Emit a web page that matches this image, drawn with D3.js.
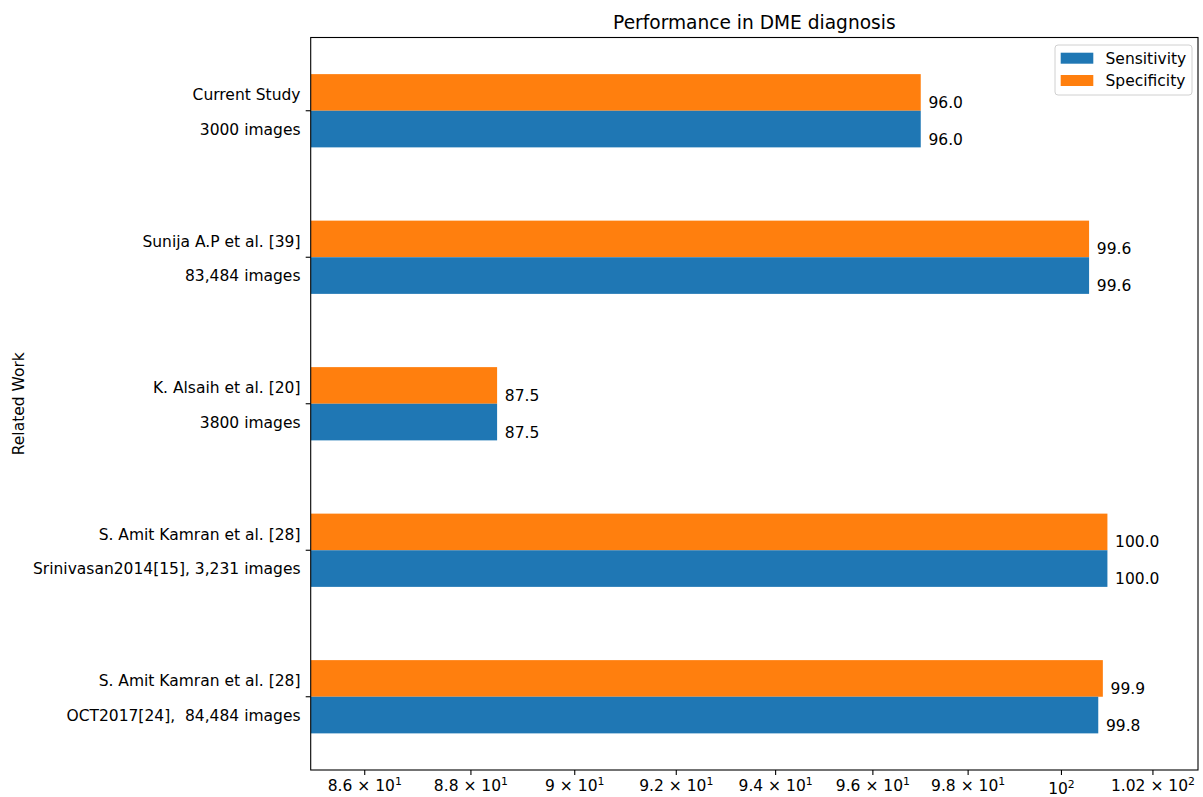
<!DOCTYPE html>
<html>
<head>
<meta charset="utf-8">
<script src="https://cdn.jsdelivr.net/npm/d3@7"></script>
<style>
  body { margin: 0; background: #fff; }
  text { font-family: "DejaVu Sans", sans-serif; fill: #000; }
</style>
</head>
<body>
<svg id="chart" width="1203" height="797"></svg>
<script>
// data
let studies = ["Current Study", "Sunija A.P et al. [39]", "K. Alsaih et al. [20]",
    "S. Amit Kamran et al. [28]", "S. Amit Kamran et al. [28]"];
let datasets = ["3000 images", "83,484 images", "3800 images",
    "Srinivasan2014[15], 3,231 images", "OCT2017[24],  84,484 images"];
let sensitivity = [96.0, 99.6, 87.5, 100.0, 99.8];
let specificity = [96.0, 99.6, 87.5, 100.0, 99.9];
let xTicks = [86, 88, 90, 92, 94, 96, 98, 100, 102];
let seriesNames = ["Sensitivity", "Specificity"];
// bars in the source run one unit past the printed value
let barOffset = 1;

const blue = "#1f77b4", orange = "#ff7f0e";
const fs = 15.5;

let svg = d3.select("#chart");
let axL = 310.7, axR = 1198, axT = 37.5, axB = 770;

let x = d3.scaleLog().domain([85, 103]).range([axL, axR]);
let y = d3.scaleLinear().domain([-0.5, 4.5]).range([axT, axB]);
let bw = 0.25;

svg.append("clipPath").attr("id", "plotclip")
    .append("rect").attr("x", axL).attr("y", axT)
    .attr("width", axR - axL).attr("height", axB - axT);

let plot = svg.append("g").attr("clip-path", "url(#plotclip)");

// specificity on top half, sensitivity on bottom half
plot.selectAll("rect.spec").data(specificity).enter().append("rect")
    .attr("class", "spec")
    .attr("x", axL)
    .attr("y", (d, i) => y(i - bw))
    .attr("width", d => x(d + barOffset) - axL)
    .attr("height", y(bw) - y(0))
    .attr("fill", orange);

plot.selectAll("rect.sens").data(sensitivity).enter().append("rect")
    .attr("class", "sens")
    .attr("x", axL)
    .attr("y", (d, i) => y(i))
    .attr("width", d => x(d + barOffset) - axL)
    .attr("height", y(bw) - y(0))
    .attr("fill", blue);

// value labels
svg.selectAll("text.specLab").data(specificity).enter().append("text")
    .attr("x", d => x(d + barOffset) + 7.7)
    .attr("y", (d, i) => y(i) - 2.8)
    .attr("font-size", fs)
    .text(d => d.toFixed(1));

svg.selectAll("text.sensLab").data(sensitivity).enter().append("text")
    .attr("x", d => x(d + barOffset) + 7.7)
    .attr("y", (d, i) => y(i + bw) - 2.8)
    .attr("font-size", fs)
    .text(d => d.toFixed(1));

// spines
svg.append("rect")
    .attr("x", axL).attr("y", axT)
    .attr("width", axR - axL).attr("height", axB - axT)
    .attr("fill", "none").attr("stroke", "#000").attr("stroke-width", 1.1);

// y ticks and two-line labels
let yt = svg.append("g");
studies.forEach((s, i) => {
    let ty = y(i);
    yt.append("line").attr("x1", axL - 5).attr("x2", axL)
        .attr("y1", ty).attr("y2", ty).attr("stroke", "#000").attr("stroke-width", 1.1);
    yt.append("text").attr("x", 300.5).attr("y", ty - 10.5)
        .attr("text-anchor", "end").attr("font-size", fs).text(s);
    yt.append("text").attr("x", 300.5).attr("y", ty + 24)
        .attr("text-anchor", "end").attr("font-size", fs)
        .style("white-space", "pre").text(datasets[i]);
});

// x ticks, matplotlib-style log labels
let xt = svg.append("g");
xTicks.forEach(v => {
    let tx = x(v);
    xt.append("line").attr("x1", tx).attr("x2", tx)
        .attr("y1", axB).attr("y2", axB + 5)
        .attr("stroke", "#000").attr("stroke-width", 1.1);
    let e = Math.floor(Math.log10(v) + 1e-9);
    let m = +(v / Math.pow(10, e)).toFixed(2);
    let t = xt.append("text").attr("x", tx).attr("text-anchor", "middle")
        .attr("font-size", fs);
    if (m === 1) {
        t.attr("y", axB + 23.5);
        t.append("tspan").text("10");
        t.append("tspan").attr("dy", -6).attr("font-size", fs * 0.7).text(e);
    } else {
        t.attr("y", axB + 20.5);
        t.append("tspan").text(m + " \u00d7 10");
        t.append("tspan").attr("dy", -6).attr("font-size", fs * 0.7).text(e);
    }
});

// title and axis label
svg.append("text").attr("x", (axL + axR) / 2).attr("y", 29)
    .attr("text-anchor", "middle").attr("font-size", 18.6)
    .text("Performance in DME diagnosis");

svg.append("text")
    .attr("transform", `translate(23.5,${(axT + axB) / 2}) rotate(-90)`)
    .attr("text-anchor", "middle").attr("font-size", fs)
    .text("Related Work");

// legend
let lg = svg.append("g");
lg.append("rect").attr("x", 1055).attr("y", 45).attr("width", 137).attr("height", 50)
    .attr("rx", 3).attr("fill", "#fff").attr("fill-opacity", 0.8)
    .attr("stroke", "#d0d0d0").attr("stroke-width", 1);
[blue, orange].forEach((c, i) => {
    lg.append("rect").attr("x", 1060.7).attr("y", 52.7 + i * 22.3)
        .attr("width", 32.6).attr("height", 11).attr("fill", c);
    lg.append("text").attr("x", 1105.5).attr("y", 63.5 + i * 22.3)
        .attr("font-size", fs).text(seriesNames[i]);
});
</script>
</body>
</html>
